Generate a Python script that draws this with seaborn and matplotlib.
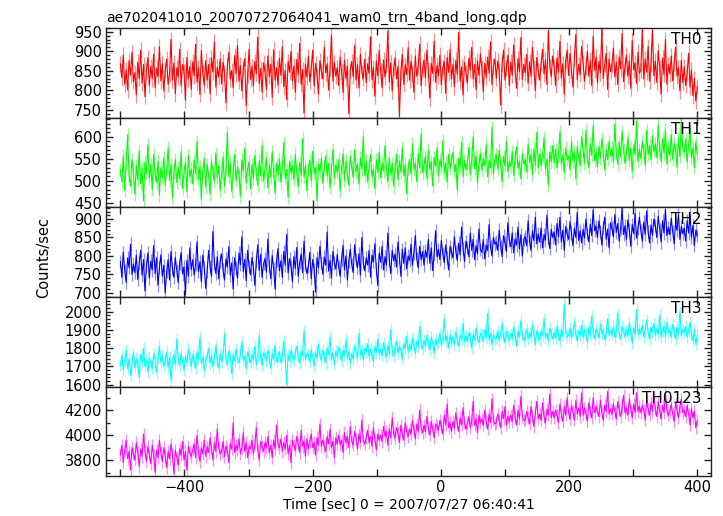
import numpy as np
import pandas as pd
import matplotlib
matplotlib.use("Agg")
import matplotlib.pyplot as plt
from matplotlib.ticker import MultipleLocator
import seaborn as sns

# light curve values (counts/sec), 400 bins from -500 to 400 s
th0 = [868, 832, 890, 815, 852, 801, 876, 838, 897, 822,
       845, 788, 872, 830, 903, 818, 866, 784, 850, 884,
       812, 861, 829, 893, 806, 857, 835, 912, 824, 868,
       798, 851, 880, 815, 842, 930, 826, 870, 791, 858,
       834, 905, 812, 866, 848, 775, 884, 829, 861, 802,
       873, 837, 918, 820, 858, 789, 902, 845, 812, 876,
       826, 866, 791, 883, 847, 924, 808, 859, 834, 881,
       816, 872, 845, 768, 862, 898, 829, 851, 806, 889,
       842, 915, 823, 864, 798, 856, 881, 760, 839, 905,
       828, 861, 812, 874, 843, 936, 817, 856, 795, 870,
       849, 802, 888, 835, 867, 782, 904, 826, 858, 813,
       882, 838, 912, 809, 851, 776, 874, 846, 900, 824,
       862, 795, 879, 840, 920, 815, 853, 742, 866, 834,
       887, 822, 856, 903, 811, 869, 838, 790, 876, 848,
       829, 910, 845, 868, 800, 856, 942, 823, 871, 836,
       858, 812, 885, 847, 794, 877, 829, 862, 740, 851,
       874, 835, 915, 826, 866, 806, 892, 846, 830, 880,
       819, 868, 843, 937, 827, 858, 785, 875, 837, 902,
       850, 806, 878, 834, 863, 952, 821, 870, 798, 856,
       883, 829, 861, 733, 847, 892, 815, 866, 840, 909,
       826, 874, 845, 795, 888, 836, 862, 918, 812, 855,
       878, 831, 903, 852, 780, 869, 843, 926, 820, 864,
       837, 890, 814, 858, 873, 792, 884, 846, 905, 829,
       866, 809, 877, 841, 948, 823, 860, 788, 871, 845,
       818, 882, 852, 910, 829, 866, 801, 875, 838, 893,
       857, 796, 869, 833, 885, 844, 924, 815, 862, 880,
       831, 875, 849, 762, 868, 903, 826, 857, 890, 812,
       872, 838, 916, 852, 805, 881, 847, 935, 828, 866,
       845, 892, 818, 873, 836, 910, 857, 799, 884, 850,
       826, 869, 905, 842, 878, 815, 953, 861, 834, 888,
       860, 812, 883, 846, 925, 831, 868, 790, 876, 903,
       838, 895, 852, 808, 882, 944, 827, 866, 840, 912,
       870, 823, 858, 900, 836, 877, 812, 938, 851, 885,
       819, 874, 845, 958, 830, 867, 895, 802, 880, 848,
       866, 908, 834, 872, 815, 886, 855, 946, 822, 861,
       890, 836, 875, 805, 928, 852, 870, 818, 898, 843,
       852, 957, 829, 880, 846, 912, 823, 868, 955, 837,
       875, 820, 902, 858, 790, 883, 840, 930, 815, 866,
       842, 888, 824, 869, 910, 836, 858, 798, 877, 820,
       860, 812, 845, 895, 808, 852, 786, 830, 772, 810]

th1 = [525, 498, 556, 478, 540, 605, 512, 488, 548, 520,
       470, 535, 502, 568, 494, 528, 455, 543, 517, 582,
       506, 538, 481, 560, 515, 497, 545, 468, 530, 508,
       552, 490, 523, 575, 501, 537, 462, 519, 548, 496,
       531, 505, 566, 482, 520, 541, 475, 558, 510, 527,
       493, 547, 516, 590, 503, 533, 458, 524, 551, 486,
       538, 512, 470, 545, 522, 498, 563, 507, 534, 479,
       516, 554, 488, 528, 610, 509, 541, 476, 523, 560,
       500, 532, 515, 465, 548, 521, 574, 495, 529, 543,
       482, 537, 506, 558, 518, 490, 545, 512, 580, 499,
       527, 553, 484, 536, 508, 566, 521, 472, 540, 514,
       549, 497, 531, 588, 505, 526, 462, 544, 518, 535,
       503, 560, 520, 487, 542, 513, 596, 509, 534, 478,
       525, 546, 500, 567, 516, 531, 455, 538, 522, 551,
       494, 533, 557, 511, 540, 485, 528, 572, 506, 537,
       519, 548, 477, 530, 562, 501, 545, 515, 490, 556,
       530, 508, 571, 520, 538, 493, 552, 527, 600, 512,
       545, 498, 534, 560, 510, 526, 482, 548, 519, 565,
       507, 541, 522, 580, 529, 498, 553, 515, 540, 488,
       532, 561, 503, 545, 520, 576, 511, 537, 470, 528,
       549, 515, 584, 527, 540, 498, 562, 530, 607, 518,
       537, 556, 505, 570, 526, 544, 488, 553, 532, 575,
       512, 548, 530, 592, 519, 541, 497, 560, 528, 546,
       565, 521, 538, 480, 552, 533, 588, 510, 547, 525,
       540, 576, 514, 549, 600, 528, 556, 495, 538, 563,
       524, 551, 535, 582, 509, 545, 530, 622, 517, 548,
       559, 527, 570, 540, 498, 556, 534, 590, 521, 544,
       533, 567, 512, 553, 578, 529, 545, 505, 562, 538,
       548, 520, 584, 541, 560, 515, 573, 536, 610, 530,
       562, 535, 555, 598, 527, 549, 490, 566, 543, 580,
       541, 571, 530, 556, 612, 538, 560, 518, 575, 548,
       557, 524, 590, 545, 566, 505, 578, 552, 535, 600,
       569, 540, 615, 553, 530, 584, 558, 626, 546, 565,
       532, 578, 551, 597, 560, 525, 571, 548, 590, 556,
       575, 545, 630, 562, 538, 588, 554, 612, 570, 540,
       561, 598, 547, 575, 520, 583, 559, 636, 544, 572,
       550, 590, 568, 535, 615, 560, 580, 548, 602, 566,
       584, 553, 627, 571, 544, 596, 563, 618, 538, 577,
       558, 605, 549, 586, 569, 530, 598, 555, 640, 573,
       566, 595, 542, 580, 618, 552, 575, 530, 588, 560]

th2 = [785, 742, 810, 760, 728, 795, 768, 832, 750, 778,
       755, 802, 736, 781, 815, 748, 790, 705, 772, 808,
       740, 786, 762, 828, 752, 795, 721, 768, 803, 745,
       775, 700, 758, 790, 735, 812, 766, 742, 796, 760,
       728, 781, 809, 751, 770, 695, 788, 745, 822, 763,
       790, 748, 776, 838, 757, 784, 730, 802, 769, 712,
       758, 815, 772, 745, 866, 780, 752, 798, 738, 786,
       806, 762, 735, 792, 770, 825, 748, 781, 710, 795,
       767, 740, 808, 776, 852, 758, 790, 733, 815, 772,
       749, 796, 768, 720, 785, 830, 761, 805, 742, 779,
       792, 756, 846, 774, 738, 801, 765, 710, 788, 820,
       760, 787, 742, 812, 775, 858, 754, 793, 770, 730,
       798, 766, 823, 745, 782, 805, 755, 840, 776, 752,
       772, 810, 738, 790, 762, 702, 795, 768, 826, 783,
       750, 797, 775, 865, 759, 788, 740, 812, 781, 765,
       804, 770, 745, 792, 828, 762, 800, 735, 785, 818,
       776, 755, 830, 790, 768, 806, 748, 850, 782, 760,
       795, 775, 815, 742, 802, 784, 833, 766, 720, 808,
       783, 826, 762, 798, 776, 862, 790, 752, 815, 787,
       805, 770, 838, 795, 745, 818, 780, 822, 765, 800,
       788, 832, 775, 808, 855, 792, 768, 826, 790, 812,
       775, 815, 796, 845, 780, 822, 760, 805, 868, 798,
       818, 790, 842, 806, 782, 830, 795, 762, 826, 810,
       795, 852, 812, 788, 835, 803, 878, 820, 785, 840,
       822, 798, 862, 815, 845, 790, 828, 806, 873, 818,
       810, 844, 792, 830, 815, 885, 825, 800, 850, 832,
       838, 815, 870, 826, 798, 855, 835, 812, 890, 843,
       825, 862, 808, 846, 830, 878, 819, 858, 800, 845,
       852, 828, 895, 840, 815, 868, 842, 905, 833, 860,
       837, 876, 822, 858, 843, 910, 848, 820, 872, 850,
       865, 830, 888, 852, 905, 838, 870, 815, 880, 858,
       845, 893, 862, 828, 875, 850, 918, 842, 868, 835,
       872, 848, 900, 860, 838, 886, 855, 925, 868, 880,
       850, 895, 866, 830, 878, 905, 845, 872, 822, 890,
       876, 852, 912, 864, 888, 840, 874, 930, 858, 882,
       845, 898, 870, 826, 885, 860, 915, 848, 876, 905,
       868, 840, 892, 858, 922, 866, 835, 884, 856, 900,
       882, 850, 908, 872, 838, 895, 862, 926, 855, 878,
       858, 902, 866, 833, 888, 870, 912, 845, 880, 860,
       875, 840, 896, 862, 912, 850, 883, 828, 870, 855]

th3 = [1705, 1760, 1680, 1735, 1790, 1690, 1740, 1650, 1720, 1775,
       1695, 1745, 1710, 1640, 1765, 1725, 1800, 1700, 1735, 1670,
       1750, 1715, 1690, 1770, 1730, 1665, 1745, 1810, 1720, 1760,
       1700, 1735, 1780, 1695, 1750, 1620, 1725, 1765, 1710, 1850,
       1740, 1705, 1770, 1730, 1680, 1755, 1720, 1795, 1745, 1700,
       1765, 1725, 1690, 1780, 1740, 1860, 1715, 1750, 1675, 1735,
       1755, 1800, 1720, 1760, 1700, 1745, 1815, 1730, 1690, 1770,
       1725, 1760, 1880, 1740, 1710, 1785, 1750, 1660, 1765, 1730,
       1795, 1745, 1720, 1770, 1835, 1735, 1755, 1690, 1780, 1750,
       1720, 1765, 1740, 1810, 1710, 1760, 1870, 1745, 1705, 1775,
       1760, 1730, 1790, 1750, 1690, 1770, 1740, 1815, 1725, 1755,
       1780, 1720, 1755, 1840, 1745, 1600, 1765, 1730, 1790, 1750,
       1735, 1775, 1810, 1750, 1720, 1785, 1760, 1895, 1740, 1770,
       1765, 1725, 1790, 1755, 1700, 1780, 1745, 1820, 1760, 1735,
       1790, 1750, 1720, 1800, 1765, 1860, 1740, 1775, 1710, 1785,
       1755, 1805, 1770, 1730, 1790, 1760, 1845, 1745, 1780, 1720,
       1770, 1740, 1815, 1775, 1750, 1880, 1765, 1790, 1735, 1800,
       1780, 1825, 1755, 1795, 1760, 1730, 1810, 1775, 1850, 1765,
       1795, 1760, 1830, 1785, 1750, 1815, 1770, 1900, 1790, 1755,
       1805, 1840, 1775, 1810, 1790, 1740, 1825, 1800, 1865, 1780,
       1820, 1790, 1855, 1815, 1770, 1840, 1805, 1920, 1830, 1795,
       1845, 1810, 1870, 1825, 1790, 1860, 1830, 1775, 1850, 1820,
       1835, 1880, 1815, 1855, 1960, 1840, 1865, 1800, 1875, 1830,
       1860, 1820, 1890, 1845, 1810, 1870, 1850, 1935, 1835, 1865,
       1840, 1885, 1855, 1800, 1875, 1845, 1910, 1860, 1830, 1880,
       1870, 1835, 1900, 1855, 1990, 1845, 1880, 1820, 1870, 1850,
       1855, 1895, 1840, 1875, 1935, 1860, 1830, 1890, 1865, 1845,
       1880, 1850, 1915, 1865, 1810, 1895, 1860, 1950, 1875, 1840,
       1865, 1905, 1850, 1885, 1860, 1930, 1870, 1820, 1895, 1860,
       1845, 1890, 1870, 1960, 1855, 1880, 1840, 1910, 1875, 1850,
       1885, 1855, 1920, 1870, 1840, 1900, 1865, 2040, 1880, 1860,
       1870, 1910, 1855, 1890, 1945, 1875, 1840, 1895, 1870, 1925,
       1860, 1900, 1880, 1830, 1915, 1870, 1975, 1885, 1850, 1905,
       1890, 1855, 1930, 1875, 1900, 1845, 1885, 1960, 1870, 1895,
       1875, 1915, 1860, 1895, 1990, 1880, 1850, 1920, 1885, 1865,
       1900, 1870, 1940, 1885, 1830, 1910, 1880, 2010, 1875, 1905,
       1880, 1925, 1860, 1900, 1955, 1885, 1850, 1915, 1890, 1935,
       1870, 1905, 1880, 1980, 1860, 1895, 1920, 1865, 1940, 1885,
       1900, 1860, 1930, 1890, 1850, 1915, 1880, 2000, 1870, 1905,
       1885, 1920, 1860, 1895, 1940, 1875, 1840, 1900, 1820, 1870]

th0123 = [3840, 3920, 3780, 3880, 3960, 3810, 3870, 3720, 3900, 3850,
          3800, 3940, 3860, 3750, 3890, 3830, 4010, 3870, 3790, 3910,
          3850, 3770, 3920, 3840, 3700, 3880, 3820, 3960, 3860, 3790,
          3900, 3830, 3740, 3870, 3810, 3930, 3850, 3690, 3880, 3820,
          3760, 3890, 3840, 3950, 3800, 3870, 3720, 3910, 3860, 3830,
          3880, 3930, 3820, 4000, 3870, 3790, 3900, 3850, 3960, 3830,
          3910, 3860, 3980, 3890, 3800, 3940, 3870, 4050, 3900, 3850,
          3870, 3950, 3830, 3910, 3880, 3780, 3930, 3890, 4100, 3860,
          3920, 3880, 3970, 3850, 3900, 4020, 3870, 3940, 3820, 3910,
          3890, 3960, 3850, 3930, 4060, 3880, 3800, 3950, 3910, 3870,
          3940, 3900, 3990, 3860, 3920, 3820, 3960, 3890, 4080, 3930,
          3900, 3970, 3870, 3940, 3890, 4000, 3850, 3920, 3780, 3960,
          3920, 3880, 3990, 3930, 3860, 4040, 3910, 3950, 3830, 3970,
          3890, 3950, 4010, 3900, 3940, 3840, 3980, 3920, 4090, 3910,
          3960, 3910, 3870, 3990, 3930, 4050, 3900, 3950, 3820, 3980,
          3930, 4000, 3920, 3960, 3860, 4020, 3940, 3990, 3900, 4070,
          3950, 3920, 4030, 3970, 3890, 4010, 3940, 4120, 3960, 3930,
          3980, 4040, 3940, 3990, 3910, 4060, 3970, 3880, 4010, 3960,
          4000, 3950, 4070, 3990, 4030, 3920, 4050, 3980, 4140, 4010,
          3980, 4060, 4020, 3940, 4080, 4010, 3960, 4100, 4030, 3990,
          4050, 4010, 4120, 4040, 3970, 4090, 4030, 4200, 4060, 4020,
          4080, 4030, 4150, 4060, 4000, 4110, 4050, 3980, 4090, 4070,
          4040, 4120, 4070, 4010, 4160, 4080, 4250, 4060, 4100, 4030,
          4110, 4060, 4180, 4090, 4030, 4140, 4080, 4220, 4100, 4050,
          4090, 4150, 4060, 4120, 4270, 4080, 4130, 4020, 4160, 4100,
          4130, 4080, 4200, 4110, 4050, 4170, 4100, 4290, 4120, 4090,
          4100, 4170, 4120, 4060, 4190, 4130, 4230, 4080, 4150, 4110,
          4160, 4110, 4240, 4140, 4080, 4200, 4130, 4310, 4150, 4120,
          4120, 4190, 4140, 4090, 4230, 4150, 4070, 4180, 4270, 4130,
          4170, 4120, 4260, 4150, 4100, 4210, 4160, 4330, 4140, 4190,
          4140, 4200, 4160, 4100, 4250, 4170, 4110, 4230, 4160, 4300,
          4180, 4130, 4240, 4190, 4120, 4280, 4170, 4220, 4150, 4340,
          4160, 4220, 4170, 4110, 4260, 4190, 4140, 4300, 4180, 4230,
          4200, 4150, 4280, 4180, 4120, 4240, 4190, 4350, 4170, 4210,
          4170, 4250, 4190, 4130, 4270, 4200, 4150, 4230, 4320, 4180,
          4220, 4160, 4290, 4200, 4140, 4250, 4180, 4340, 4190, 4230,
          4180, 4240, 4200, 4120, 4280, 4210, 4160, 4260, 4190, 4310,
          4210, 4150, 4270, 4190, 4130, 4240, 4180, 4330, 4200, 4160,
          4190, 4250, 4170, 4110, 4260, 4200, 4140, 4230, 4290, 4180,
          4200, 4150, 4240, 4170, 4080, 4210, 4140, 4190, 4060, 4120]

bands = ["TH0", "TH1", "TH2", "TH3", "TH0123"]
series = [th0, th1, th2, th3, th0123]
errors = [20, 15, 18, 32, 50]  # typical 1-sigma error per bin
t_start, t_stop = -500, 400

colors = ["#ff0000", "#00ff00", "#0000ff", "#00ffff", "#ff00ff"]
ylims = [(730, 960), (440, 644), (689, 932), (1590, 2080), (3670, 4390)]
majors = [50, 50, 50, 100, 200]
minors = [10, 10, 10, 20, 100]

sns.set_theme(style="ticks")
plt.rcParams["font.family"] = ["DejaVu Sans"]
plt.rcParams["text.color"] = "black"
plt.rcParams["axes.labelcolor"] = "black"
plt.rcParams["xtick.direction"] = "in"
plt.rcParams["ytick.direction"] = "in"

fig, axes = plt.subplots(5, 1, figsize=(7.23, 5.16), dpi=100, sharex=True)
fig.subplots_adjust(left=0.147, right=0.983, top=0.946, bottom=0.077, hspace=0)

for ax, name, vals, err, c, yl, mj, mn in zip(axes, bands, series, errors, colors,
                                              ylims, majors, minors):
    vals = np.array(vals, dtype=float)
    t = np.linspace(t_start, t_stop, len(vals))
    df = pd.DataFrame({"time": t, "rate": vals})
    ax.vlines(df["time"], df["rate"] - err, df["rate"] + err, color=c,
              alpha=0.45, lw=0.9)
    sns.lineplot(data=df, x="time", y="rate", ax=ax, color=c, lw=0.8,
                 estimator=None)
    ax.set_ylim(*yl)
    ax.set_xlim(-522, 421)
    ax.yaxis.set_major_locator(MultipleLocator(mj))
    ax.yaxis.set_minor_locator(MultipleLocator(mn))
    ax.xaxis.set_major_locator(MultipleLocator(200))
    ax.xaxis.set_minor_locator(MultipleLocator(100))
    ax.tick_params(which="both", top=True, right=True, color="#222222",
                   labelsize=10.5, labelcolor="black", pad=3)
    ax.tick_params(which="major", length=5, width=1)
    ax.tick_params(which="minor", length=3, width=1)
    ax.tick_params(axis="x", which="minor", length=5)
    ax.set_xlabel("")
    ax.set_ylabel("")
    for s in ax.spines.values():
        s.set_linewidth(1)
        s.set_color("#222222")
    ax.text(0.985, 0.95, name, transform=ax.transAxes, ha="right", va="top",
            fontsize=11, color="black")

axes[-1].set_xlabel("Time [sec] 0 = 2007/07/27 06:40:41", fontsize=10,
                    color="black", labelpad=2)
fig.text(0.06, 0.5, "Counts/sec", rotation=90, va="center", ha="center",
         fontsize=10.5, color="black")
axes[0].set_title("ae702041010_20070727064041_wam0_trn_4band_long.qdp",
                  loc="left", fontsize=10, pad=4, color="black")

fig.savefig("out.png", dpi=100)
